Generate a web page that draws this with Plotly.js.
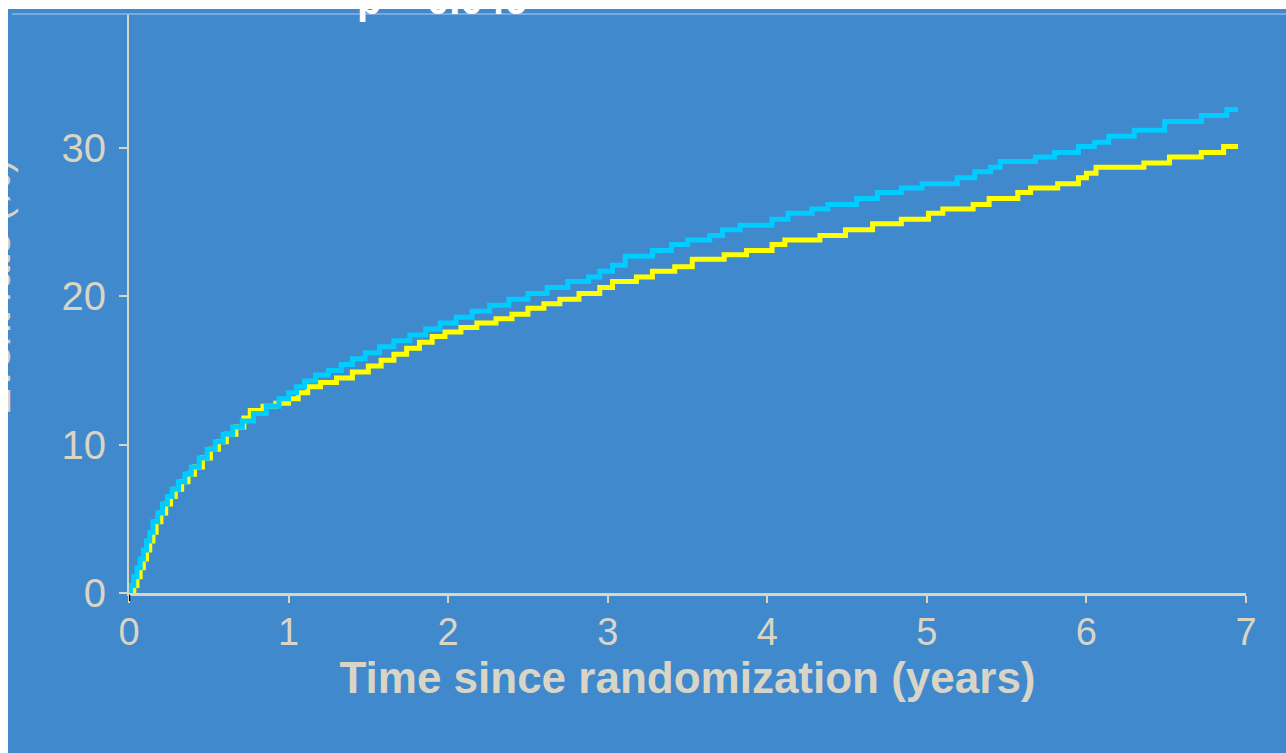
<!DOCTYPE html>
<html>
<head>
<meta charset="utf-8">
<script src="https://cdn.plot.ly/plotly-3.0.1.min.js"></script>
<style>
html,body{margin:0;padding:0;background:#ffffff;width:1286px;height:753px;overflow:hidden;}
#chart{position:absolute;left:8px;top:9px;width:1278px;height:744px;}
</style>
</head>
<body>
<div id="chart"></div>
<script>
// Group shown in yellow (lower curve)
const yellowTime = [0,0.03,0.05,0.07,0.09,0.11,0.13,0.15,0.17,0.20,0.23,0.26,0.29,0.33,0.37,0.41,0.46,0.51,0.56,0.61,0.67,0.72,0.76,0.84,0.92,1.00,1.06,1.12,1.20,1.30,1.40,1.50,1.58,1.66,1.74,1.82,1.90,1.98,2.08,2.18,2.30,2.40,2.50,2.60,2.70,2.82,2.95,3.03,3.18,3.28,3.42,3.53,3.73,3.87,4.03,4.11,4.33,4.49,4.66,4.84,5.01,5.10,5.29,5.39,5.57,5.65,5.82,5.95,6.00,6.06,6.36,6.52,6.72,6.86,6.95];
const yellowValue = [0,0.5,1.1,1.7,2.3,2.9,3.5,4.1,4.8,5.4,6.0,6.5,7.0,7.5,8.0,8.5,9.1,9.7,10.2,10.7,11.2,11.8,12.3,12.6,12.8,13.1,13.5,13.9,14.2,14.5,14.9,15.3,15.7,16.1,16.5,16.9,17.3,17.6,17.9,18.2,18.5,18.8,19.2,19.5,19.8,20.2,20.6,21.0,21.3,21.7,22.0,22.5,22.8,23.1,23.5,23.8,24.1,24.5,24.9,25.2,25.6,25.9,26.2,26.6,27.0,27.3,27.6,28.0,28.3,28.7,29.0,29.4,29.7,30.1,30.1];

// Group shown in cyan (upper curve)
const cyanTime = [0,0.01,0.03,0.05,0.07,0.09,0.11,0.13,0.15,0.18,0.21,0.24,0.27,0.31,0.35,0.39,0.44,0.49,0.54,0.59,0.65,0.71,0.78,0.86,0.94,1.00,1.05,1.10,1.17,1.25,1.33,1.40,1.48,1.57,1.66,1.76,1.86,1.95,2.05,2.15,2.26,2.38,2.50,2.62,2.75,2.88,2.95,3.03,3.11,3.28,3.40,3.50,3.64,3.72,3.83,4.03,4.13,4.28,4.38,4.56,4.69,4.84,4.97,5.19,5.30,5.40,5.46,5.68,5.80,5.95,6.05,6.14,6.30,6.49,6.72,6.88,6.95];
const cyanValue = [0,0.5,1.1,1.7,2.3,2.9,3.5,4.1,4.8,5.4,6.0,6.5,7.0,7.5,8.0,8.5,9.1,9.7,10.2,10.7,11.2,11.6,12.1,12.6,13.1,13.5,13.9,14.3,14.7,15.0,15.4,15.8,16.2,16.6,17.0,17.4,17.8,18.2,18.6,19.0,19.4,19.8,20.2,20.6,21.0,21.3,21.7,22.1,22.7,23.1,23.5,23.8,24.1,24.5,24.8,25.2,25.6,25.9,26.2,26.6,27.0,27.3,27.6,28.0,28.4,28.7,29.1,29.4,29.7,30.1,30.4,30.8,31.2,31.8,32.2,32.6,32.6];

const xTicks = [0,1,2,3,4,5,6,7];
const yTicks = [0,10,20,30];
const xTitle = 'Time since randomization (years)';
const yTitle = 'Event rate (%)';
const pText = 'p = 0.046';

const axisColor = '#d9d5c6';
const font = 'Liberation Sans, Arial, Helvetica, sans-serif';

const traces = [
  {x: yellowTime, y: yellowValue, type: 'scatter', mode: 'lines',
   line: {shape: 'hv', color: '#ffff00', width: 5}, hoverinfo: 'skip'},
  {x: cyanTime, y: cyanValue, type: 'scatter', mode: 'lines',
   line: {shape: 'hv', color: '#00ccff', width: 5}, hoverinfo: 'skip'}
];

const layout = {
  width: 1278, height: 744,
  paper_bgcolor: '#4189cd', plot_bgcolor: '#4189cd',
  margin: {l: 121, r: 40, t: 5, b: 160, pad: 0},
  showlegend: false,
  font: {family: font, color: axisColor},
  xaxis: {
    range: [0, 7], tickvals: xTicks, ticktext: xTicks.map(String),
    showgrid: false, zeroline: false, showline: true, linecolor: axisColor, linewidth: 3,
    ticks: 'outside', ticklen: 7, tickwidth: 2, tickcolor: axisColor,
    tickfont: {size: 38, color: axisColor, family: font},
    ticklabelstandoff: -4,
    title: {text: '<b>' + xTitle + '</b>', font: {size: 44, color: axisColor, family: font}, standoff: 4}
  },
  yaxis: {
    range: [0, 39.04], tickvals: yTicks, ticktext: yTicks.map(String),
    showgrid: false, zeroline: false, showline: true, linecolor: axisColor, linewidth: 2,
    ticks: 'outside', ticklen: 8, tickwidth: 2, tickcolor: axisColor,
    tickfont: {size: 40, color: axisColor, family: font},
    ticklabelstandoff: 5
  },
  shapes: [
    {type: 'line', xref: 'paper', yref: 'paper', x0: -0.1047, x1: 1.04, y0: 1, y1: 1,
     line: {color: '#8fb6e0', width: 1.5}},
    {type: 'line', xref: 'x', yref: 'paper', x0: 0, x1: 0, y0: -0.003, y1: -0.014,
     line: {color: '#000000', width: 2.5}}
  ],
  annotations: [
    {text: '<b>' + pText + '</b>', xref: 'paper', yref: 'paper',
     x: (347 - 121) / 1117, xanchor: 'left', y: 1.024, yanchor: 'middle',
     showarrow: false, font: {size: 40, color: '#ffffff', family: font}},
    {text: yTitle, xref: 'paper', yref: 'paper', textangle: -90,
     x: (-12 - 121) / 1117, xanchor: 'center', y: 0.5285, yanchor: 'middle',
     showarrow: false, font: {size: 40, color: axisColor, family: font}}
  ]
};

Plotly.newPlot('chart', traces, layout, {displayModeBar: false, staticPlot: true});
</script>
</body>
</html>
